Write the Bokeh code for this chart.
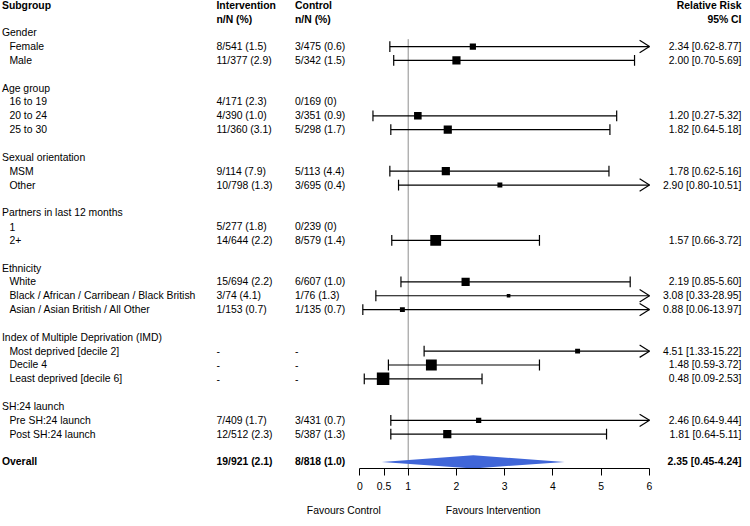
import math
from bokeh.plotting import figure
from bokeh.models import Range1d, LinearAxis, FixedTicker, ColumnDataSource
from bokeh.core.properties import value
from bokeh.embed import file_html
from bokeh.resources import INLINE

nan = float("nan")

# ---------------- data ----------------
group_names = ["Gender", "Age group", "Sexual orientation", "Partners in last 12 months",
               "Ethnicity", "Index of Multiple Deprivation (IMD)", "SH:24 launch"]
sub_labels = ["Female", "Male", "16 to 19", "20 to 24", "25 to 30", "MSM", "Other", "1", "2+",
              "White", "Black / African / Carribean / Black British", "Asian / Asian British / All Other",
              "Most deprived [decile 2]", "Decile 4", "Least deprived [decile 6]",
              "Pre SH:24 launch", "Post SH:24 launch"]
sub_group = [0, 0, 1, 1, 1, 2, 2, 3, 3, 4, 4, 4, 5, 5, 5, 6, 6]
interv_txt = ["8/541 (1.5)", "11/377 (2.9)", "4/171 (2.3)", "4/390 (1.0)", "11/360 (3.1)",
              "9/114 (7.9)", "10/798 (1.3)", "5/277 (1.8)", "14/644 (2.2)", "15/694 (2.2)",
              "3/74 (4.1)", "1/153 (0.7)", "-", "-", "-", "7/409 (1.7)", "12/512 (2.3)"]
control_txt = ["3/475 (0.6)", "5/342 (1.5)", "0/169 (0)", "3/351 (0.9)", "5/298 (1.7)",
               "5/113 (4.4)", "3/695 (0.4)", "0/239 (0)", "8/579 (1.4)", "6/607 (1.0)",
               "1/76 (1.3)", "1/135 (0.7)", "-", "-", "-", "3/431 (0.7)", "5/387 (1.3)"]
rr = [2.34, 2.00, nan, 1.20, 1.82, 1.78, 2.90, nan, 1.57, 2.19, 3.08, 0.88, 4.51, 1.48, 0.48, 2.46, 1.81]
ci_lo = [0.62, 0.70, nan, 0.27, 0.64, 0.62, 0.80, nan, 0.66, 0.85, 0.33, 0.06, 1.33, 0.59, 0.09, 0.64, 0.64]
ci_hi = [8.77, 5.69, nan, 5.32, 5.18, 5.16, 10.51, nan, 3.72, 5.60, 28.95, 13.97, 15.22, 3.72, 2.53, 9.44, 5.11]
box_px = [6.3, 8.3, nan, 7.7, 8.3, 8.3, 5.0, nan, 11.0, 8.3, 3.7, 5.0, 5.0, 11.0, 12.7, 5.3, 8.3]

overall_label = "Overall"
overall_interv = "19/921 (2.1)"
overall_control = "8/818 (1.0)"
overall_rr, overall_lo, overall_hi = 2.35, 0.45, 4.24

x_ticks = [0, 0.5, 1, 2, 3, 4, 5, 6]
x_tick_labels = ["0", "0.5", "1", "2", "3", "4", "5", "6"]
favours_labels = ["Favours Control", "Favours Intervention"]
header_left = ["Subgroup", "Intervention", "Control"]
header_sub = ["n/N (%)", "n/N (%)"]
header_right = ["Relative Risk", "95% CI"]

# ---------------- layout ----------------
REF_W, REF_H = 750, 526
FIG_W, FIG_H = 742, 518
PX0, PX6 = 363.3, 656.0
PPU = (PX6 - PX0) / 6.0
ROW0_Y, ROW_DY = 32.8, 14.08
AXIS_Y = 476.0
SY = FIG_H / REF_H


def X(px):
    return (px - PX0) / PPU


def R(py):
    return (py - ROW0_Y) / ROW_DY


FONT_NAME = "Liberation Sans"
FONT = value(FONT_NAME)
FS = "10.4px"
XMAX = 6.0

# rows
group_rows = []
sub_rows = [0] * len(sub_labels)
r = 0
for gi, g in enumerate(group_names):
    group_rows.append(r)
    idx = [i for i, sg in enumerate(sub_group) if sg == gi]
    for k, i in enumerate(idx):
        sub_rows[i] = r + 1 + k
    r += len(idx) + 2
overall_row = r

p = figure(width=FIG_W, height=FIG_H, x_range=Range1d(X(0), X(REF_W)),
           y_range=Range1d(R(AXIS_Y), R(0)),
           output_backend="svg", toolbar_location=None,
           x_axis_type=None, y_axis_type=None,
           min_border_left=0, min_border_right=0, min_border_top=0,
           min_border_bottom=0,
           outline_line_color=None)


def txt(xs, ys, texts, align="left", bold=False):
    src = ColumnDataSource(dict(x=xs, y=ys, t=texts))
    p.text(x="x", y="y", text="t", source=src, text_align=align, text_baseline="middle",
           text_font=FONT, text_font_size=FS, text_color="black",
           text_font_style="bold" if bold else "normal")


# headers
txt([X(1.5), X(218.3), X(297.7)], [R(5.5)] * 3, header_left, bold=True)
txt([X(218.3), X(297.7)], [R(19)] * 2, header_sub, bold=True)
txt([X(749)] * 2, [R(5.5), R(19)], header_right, align="right", bold=True)

# group & subgroup labels
txt([X(1.5)] * len(group_names), group_rows, group_names)
txt([X(9)] * len(sub_labels), sub_rows, sub_labels)
txt([X(218.3)] * len(sub_labels), sub_rows, interv_txt)
txt([X(297.7)] * len(sub_labels), sub_rows, control_txt)

has = [not math.isnan(v) for v in rr]
rr_txt = ["%.2f [%.2f-%.2f]" % (rr[i], ci_lo[i], ci_hi[i]) for i in range(len(rr)) if has[i]]
rr_rows = [sub_rows[i] for i in range(len(rr)) if has[i]]
txt([X(749)] * len(rr_txt), rr_rows, rr_txt, align="right")

# overall text
txt([X(1.5)], [overall_row], [overall_label], bold=True)
txt([X(218.3)], [overall_row], [overall_interv], bold=True)
txt([X(297.7)], [overall_row], [overall_control], bold=True)
txt([X(749)], [overall_row], ["%.2f [%.2f-%.2f]" % (overall_rr, overall_lo, overall_hi)],
    align="right", bold=True)

# reference line at RR = 1
p.segment(x0=[1], y0=[R(39.3)], x1=[1], y1=[R(AXIS_Y)], line_color="#8f8f8f", line_width=1)

# CI lines
LW = 1.2
CAP = 0.39
ci_y = [sub_rows[i] for i in range(len(rr)) if has[i]]
lo = [ci_lo[i] for i in range(len(rr)) if has[i]]
hi = [ci_hi[i] for i in range(len(rr)) if has[i]]
est = [rr[i] for i in range(len(rr)) if has[i]]
box = [box_px[i] * SY for i in range(len(rr)) if has[i]]
p.segment(x0=lo, y0=ci_y, x1=[min(h, XMAX) for h in hi], y1=ci_y, line_color="black", line_width=LW)
# left caps
p.segment(x0=lo, y0=[y - CAP for y in ci_y], x1=lo, y1=[y + CAP for y in ci_y],
          line_color="black", line_width=LW)
# right caps
rc = [(h, y) for h, y in zip(hi, ci_y) if h <= XMAX]
p.segment(x0=[h for h, _ in rc], y0=[y - CAP for _, y in rc], x1=[h for h, _ in rc],
          y1=[y + CAP for _, y in rc], line_color="black", line_width=LW)
# arrows
AW = 10.0 / PPU
AH = 0.45
ar = [y for h, y in zip(hi, ci_y) if h > XMAX]
p.segment(x0=[XMAX - AW] * len(ar), y0=[y - AH for y in ar], x1=[XMAX] * len(ar), y1=ar,
          line_color="black", line_width=LW)
p.segment(x0=[XMAX - AW] * len(ar), y0=[y + AH for y in ar], x1=[XMAX] * len(ar), y1=ar,
          line_color="black", line_width=LW)
# boxes
p.scatter(x=est, y=ci_y, size=box, marker="square", fill_color="black", line_color=None)

# overall diamond
DH = 0.48
p.patch(x=[overall_lo, overall_rr, overall_hi, overall_rr],
        y=[overall_row, overall_row - DH, overall_row, overall_row + DH],
        fill_color="#4066d8", line_color=None)

# x axis
ax = LinearAxis(ticker=FixedTicker(ticks=x_ticks), bounds=(0, 6),
                major_label_overrides={float(t): l for t, l in zip(x_ticks, x_tick_labels)},
                major_tick_out=7, major_tick_in=0, minor_tick_line_color=None,
                axis_line_color="black", major_tick_line_color="black", axis_line_width=1,
                major_label_text_font=FONT_NAME, major_label_text_font_size=FS,
                major_label_text_color="black", major_label_standoff=6)
p.add_layout(ax, "below")

fav_ticks = [round(X(347), 3), round(X(498), 3)]
ax2 = LinearAxis(ticker=FixedTicker(ticks=fav_ticks),
                 major_label_overrides={float(t): l for t, l in zip(fav_ticks, favours_labels)},
                 major_tick_out=0, major_tick_in=0, minor_tick_line_color=None,
                 axis_line_color=None, major_tick_line_color=None,
                 major_label_text_font=FONT_NAME, major_label_text_font_size=FS,
                 major_label_text_color="black", major_label_standoff=12)
p.add_layout(ax2, "below")

open("out.html", "w").write(file_html(p, INLINE))
